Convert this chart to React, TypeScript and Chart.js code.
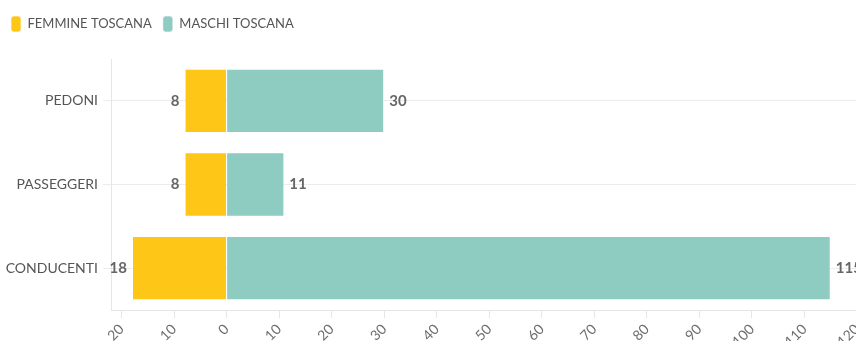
import React, { useEffect, useRef } from 'react';
import { Chart, registerables } from 'chart.js';

Chart.register(...registerables);

const categories = ['PEDONI', 'PASSEGGERI', 'CONDUCENTI'];
const seriesNames = ['FEMMINE TOSCANA', 'MASCHI TOSCANA'];
const femmine = [8, 8, 18];
const maschi = [30, 11, 115];
const xTickValues = [-20, -10, 0, 10, 20, 30, 40, 50, 60, 70, 80, 90, 100, 110, 120];

const FONT = 'Lato';
const YELLOW = '#FEC616';
const TEAL = '#8ECBC0';

const valueLabels = {
  id: 'valueLabels',
  afterDatasetsDraw(chart: any) {
    const ctx = chart.ctx;
    ctx.save();
    ctx.font = `bold 15px ${FONT}`;
    ctx.fillStyle = '#666666';
    ctx.textBaseline = 'middle';
    chart.data.datasets.forEach((ds: any, i: number) => {
      const meta = chart.getDatasetMeta(i);
      meta.data.forEach((bar: any, j: number) => {
        const v = ds.data[j] as number;
        if (v < 0) {
          ctx.textAlign = 'right';
          ctx.fillText(String(Math.abs(v)), bar.x - 5, bar.y);
        } else {
          ctx.textAlign = 'left';
          ctx.fillText(String(v), bar.x + 5, bar.y);
        }
      });
    });
    ctx.restore();
  },
};

const legendHeight = {
  id: 'legendHeight',
  beforeInit(chart: any) {
    const legend = chart.legend;
    if (!legend) return;
    const orig = legend.fit;
    legend.fit = function () {
      orig.call(this);
      this.height = 54;
    };
  },
};

export default function App() {
  const ref = useRef<HTMLCanvasElement | null>(null);

  useEffect(() => {
    if (!ref.current) return;
    const chart = new Chart(ref.current, {
      type: 'bar',
      data: {
        labels: categories,
        datasets: [
          {
            label: seriesNames[0],
            data: femmine.map((v) => -v),
            backgroundColor: YELLOW,
            borderColor: 'rgba(255,255,255,0.6)',
            borderWidth: 1,
            barPercentage: 0.96,
            categoryPercentage: 0.8,
          },
          {
            label: seriesNames[1],
            data: maschi,
            backgroundColor: TEAL,
            borderColor: 'rgba(255,255,255,0.6)',
            borderWidth: 1,
            barPercentage: 0.96,
            categoryPercentage: 0.8,
          },
        ],
      },
      options: {
        indexAxis: 'y',
        responsive: true,
        maintainAspectRatio: false,
        animation: false,
        layout: { padding: { top: 5, left: 0, right: 15, bottom: 0 } },
        plugins: {
          legend: {
            position: 'top',
            align: 'start',
            labels: {
              boxWidth: 10,
              boxHeight: 16,
              padding: 11,
              useBorderRadius: true,
              borderRadius: 3,
              color: '#555555',
              font: { family: FONT, size: 13 },
            },
          },
          tooltip: { enabled: false },
        },
        scales: {
          x: {
            stacked: true,
            min: -22,
            max: 120,
            afterBuildTicks(scale: any) {
              scale.ticks = xTickValues.map((v) => ({ value: v }));
            },
            afterFit(scale: any) {
              scale.height = 31;
            },
            ticks: {
              minRotation: 45,
              maxRotation: 45,
              color: '#6e6e6e',
              font: { family: FONT, size: 14 },
              callback: (v: any) => String(Math.abs(Number(v))),
            },
            grid: {
              drawOnChartArea: false,
              tickLength: 8,
              color: '#e6e6e6',
            },
            border: { color: '#e6e6e6' },
          },
          y: {
            stacked: true,
            afterFit(scale: any) {
              scale.width = 111;
            },
            ticks: {
              color: '#555555',
              padding: 5,
              font: { family: FONT, size: 14 },
            },
            grid: {
              offset: false,
              color: '#ececec',
              tickLength: 8,
            },
            border: { color: '#e6e6e6' },
          },
        },
      },
      plugins: [valueLabels, legendHeight],
    });
    return () => chart.destroy();
  }, []);

  return (
    <div
      style={{
        position: 'fixed',
        left: 0,
        top: 0,
        width: 856,
        height: 341,
        overflow: 'hidden',
        background: '#ffffff',
      }}
    >
      <div style={{ position: 'relative', width: 872, height: 341 }}>
        <canvas ref={ref} />
      </div>
    </div>
  );
}
